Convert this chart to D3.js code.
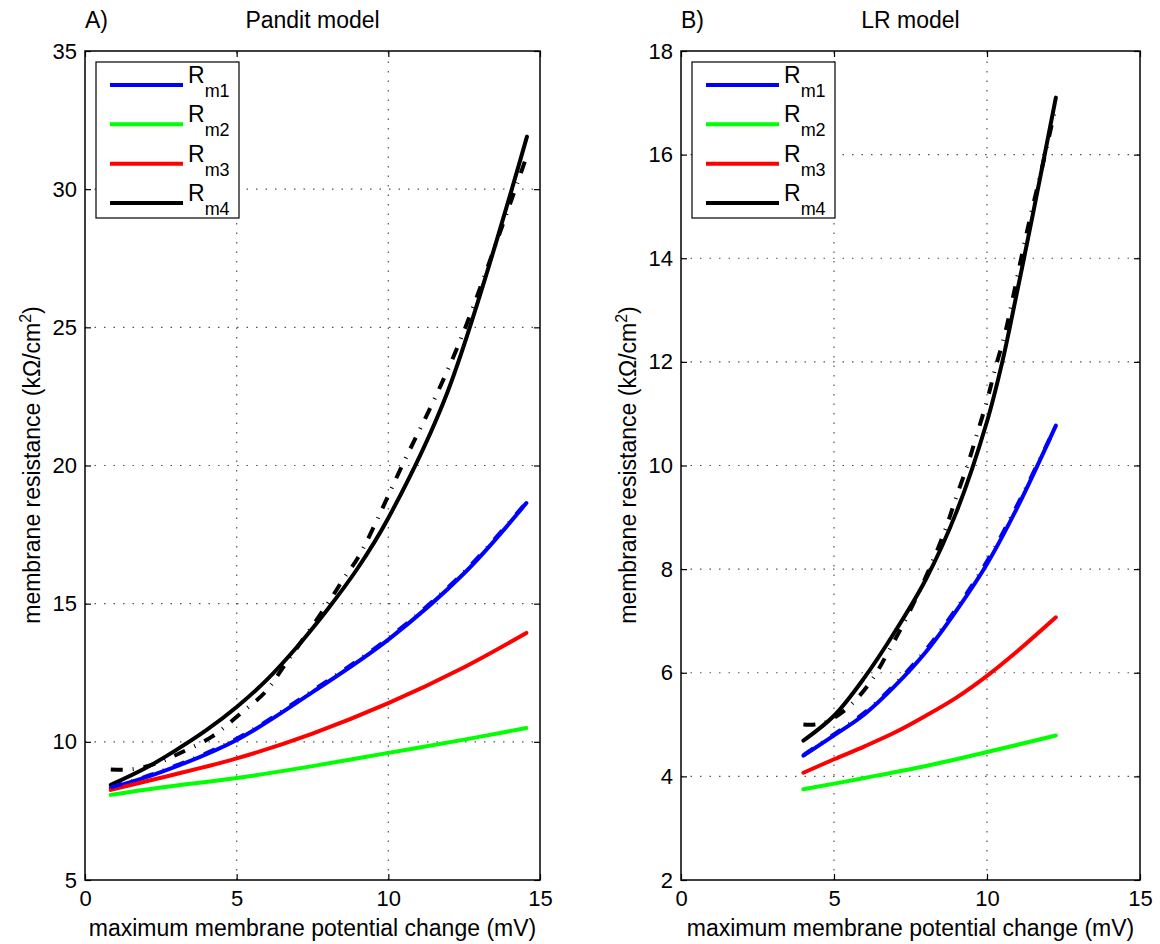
<!DOCTYPE html>
<html>
<head>
<meta charset="utf-8">
<script src="https://cdn.jsdelivr.net/npm/d3@7"></script>
<style>
  body { margin: 0; background: #fff; }
  svg text { font-family: "Liberation Sans", Arial, sans-serif; fill: #000; }
</style>
</head>
<body>
<svg id="chart" width="1160" height="944"></svg>
<script>
// tick values
const xTicks = [0, 5, 10, 15];
const yTicksA = [5, 10, 15, 20, 25, 30, 35];
const yTicksB = [2, 4, 6, 8, 10, 12, 14, 16, 18];
const legendSubs = ['m1', 'm2', 'm3', 'm4'];

// A) Pandit model, solid curves
const panditRm1X = [0.85, 2.5, 5, 7.5, 10, 12.5, 14.55];
const panditRm1Y = [8.33, 8.9, 10.07, 11.8, 13.7, 16.1, 18.64];
const panditRm2X = [0.85, 2.5, 5, 7.5, 10, 12.5, 14.55];
const panditRm2Y = [8.08, 8.35, 8.69, 9.12, 9.6, 10.08, 10.5];
const panditRm3X = [0.85, 2.5, 5, 7.5, 10, 12.5, 14.55];
const panditRm3Y = [8.26, 8.7, 9.4, 10.3, 11.4, 12.7, 13.94];
const panditRm4X = [0.85, 2, 3, 4, 5, 6, 7, 8, 9, 10, 11.93, 14.57];
const panditRm4Y = [8.44, 9.05, 9.7, 10.42, 11.26, 12.25, 13.45, 14.8, 16.3, 18.1, 22.6, 31.9];
// A) dash-dot curves
const panditFit1X = [0.85, 2.5, 5, 7.5, 10, 12.5, 14.5];
const panditFit1Y = [8.35, 8.93, 10.11, 11.85, 13.75, 16.15, 18.6];
const panditFit4X = [0.85, 1.5, 2.3, 3.07, 4.2, 5.1, 5.94, 6.6, 8.0, 8.5, 9.07, 10.5, 11.54, 12.47, 14.5];
const panditFit4Y = [9.0, 9.0, 9.2, 9.56, 10.2, 11.0, 11.8, 12.8, 15.0, 15.86, 16.8, 20.1, 22.45, 24.8, 31.0];

// B) LR model, solid curves
const lrRm1X = [4, 5, 6, 7, 8, 9, 10, 11, 12.25];
const lrRm1Y = [4.4, 4.79, 5.2, 5.75, 6.4, 7.2, 8.1, 9.2, 10.77];
const lrRm2X = [4, 6, 8, 10, 12.25];
const lrRm2Y = [3.75, 3.97, 4.2, 4.47, 4.79];
const lrRm3X = [4, 5, 6, 7, 8, 9, 10, 11, 12.25];
const lrRm3Y = [4.07, 4.33, 4.58, 4.85, 5.17, 5.52, 5.94, 6.42, 7.07];
const lrRm4X = [4, 5, 6, 7, 8, 9, 10, 10.5, 11, 11.5, 12.25];
const lrRm4Y = [4.69, 5.17, 5.91, 6.8, 7.8, 9.1, 10.85, 12.0, 13.4, 14.85, 17.1];
// B) dash-dot curves
const lrFit1X = [4, 5, 6, 7, 8, 9, 10, 11, 12.2];
const lrFit1Y = [4.41, 4.81, 5.23, 5.78, 6.44, 7.24, 8.15, 9.25, 10.7];
const lrFit4X = [4.0, 4.6, 5.4, 6.2, 6.76, 7.3, 8.0, 8.63, 9.0, 9.38, 9.67, 10.0, 10.26, 10.59, 10.85, 11.3, 11.83, 12.2];
const lrFit4Y = [5.0, 5.02, 5.3, 5.83, 6.39, 6.98, 7.85, 8.75, 9.4, 10.04, 10.6, 11.25, 11.85, 12.55, 13.25, 14.5, 15.83, 16.8];

const colors = ['#0000ff', '#00ff00', '#ff0000', '#000000'];
const pairs = (xs, ys) => xs.map((x, i) => [x, ys[i]]);

class Panel {
  constructor(svg, opts) {
    this.svg = svg;
    this.opts = opts;
    this.x = d3.scaleLinear().domain([0, 15]).range([opts.left, opts.right]);
    this.y = d3.scaleLinear().domain(opts.yDomain).range([880, 51]);
    this.g = svg.append('g');
  }

  drawGrid() {
    let grid = this.g.append('g')
      .attr('stroke', '#555')
      .attr('stroke-width', 1.2)
      .attr('stroke-dasharray', '1.5,8');
    grid.selectAll('.gx')
      .data(xTicks.slice(1, -1))
      .join('line')
      .attr('x1', d => this.x(d)).attr('x2', d => this.x(d))
      .attr('y1', this.y.range()[0]).attr('y2', this.y.range()[1]);
    grid.selectAll('.gy')
      .data(this.opts.yTicks.slice(1, -1))
      .join('line')
      .attr('y1', d => this.y(d)).attr('y2', d => this.y(d))
      .attr('x1', this.x.range()[0]).attr('x2', this.x.range()[1]);
  }

  drawLines() {
    let line = d3.line().x(d => this.x(d[0])).y(d => this.y(d[1])).curve(d3.curveCatmullRom.alpha(0.5));
    this.g.append('g')
      .selectAll('path')
      .data(this.opts.series)
      .join('path')
      .attr('d', d => line(d.points))
      .attr('fill', 'none')
      .attr('stroke', d => d.color)
      .attr('stroke-width', 4)
      .attr('stroke-linejoin', 'round')
      .attr('stroke-linecap', d => d.dash ? 'butt' : 'round')
      .attr('stroke-dasharray', d => d.dash ? '12,10,1,10' : null);
  }

  drawAxes() {
    let [x0, x1] = this.x.range();
    let [y0, y1] = this.y.range();
    let styleAxis = (sel) => {
      sel.select('.domain').remove();
      sel.selectAll('line').attr('stroke', '#000').attr('stroke-width', 1.2);
      sel.selectAll('text').style('font-size', '22px');
    };
    this.g.append('g').attr('transform', `translate(0,${y0})`)
      .call(d3.axisBottom(this.x).tickValues(xTicks).tickSize(-6).tickPadding(10))
      .call(styleAxis);
    this.g.append('g').attr('transform', `translate(0,${y1})`)
      .call(d3.axisTop(this.x).tickValues(xTicks).tickSize(-6).tickFormat(''))
      .call(styleAxis);
    this.g.append('g').attr('transform', `translate(${x0},0)`)
      .call(d3.axisLeft(this.y).tickValues(this.opts.yTicks).tickSize(-6).tickPadding(8))
      .call(styleAxis);
    this.g.append('g').attr('transform', `translate(${x1},0)`)
      .call(d3.axisRight(this.y).tickValues(this.opts.yTicks).tickSize(-6).tickFormat(''))
      .call(styleAxis);
    this.g.append('rect')
      .attr('x', x0).attr('y', y1)
      .attr('width', x1 - x0).attr('height', y0 - y1)
      .attr('fill', 'none').attr('stroke', '#000').attr('stroke-width', 1.5);
  }

  drawLabels() {
    let [x0, x1] = this.x.range();
    this.g.append('text').attr('x', x0).attr('y', 28)
      .style('font-size', '23px').text(this.opts.tag);
    this.g.append('text').attr('x', (x0 + x1) / 2).attr('y', 28)
      .attr('text-anchor', 'middle').style('font-size', '23px').text(this.opts.title);
    this.g.append('text').attr('x', (x0 + x1) / 2).attr('y', 936)
      .attr('text-anchor', 'middle').style('font-size', '23px')
      .text('maximum membrane potential change (mV)');
    let yl = this.g.append('text')
      .attr('transform', `translate(${x0 - 45},465) rotate(-90)`)
      .attr('text-anchor', 'middle').style('font-size', '23px');
    yl.append('tspan').text('membrane resistance (k\u03A9/cm');
    yl.append('tspan').attr('dy', -9).style('font-size', '16px').text('2');
    yl.append('tspan').attr('dy', 9).text(')');
  }

  drawLegend() {
    let x0 = this.x.range()[0];
    let lx = x0 + 11;
    let ly = d3.scaleLinear().domain([0, 3]).range([85, 203]);
    let legend = this.g.append('g');
    legend.append('rect')
      .attr('x', lx).attr('y', 62).attr('width', 143).attr('height', 156)
      .attr('fill', '#fff').attr('stroke', '#000').attr('stroke-width', 1.2);
    let item = legend.selectAll('.item')
      .data(legendSubs)
      .join('g')
      .attr('transform', (d, i) => `translate(0,${ly(i)})`);
    item.append('line')
      .attr('x1', lx + 14).attr('x2', lx + 87)
      .attr('stroke', (d, i) => colors[i]).attr('stroke-width', 4);
    // R followed by its lowered subscript
    let label = item.append('text').attr('x', lx + 92).attr('y', -2)
      .style('font-size', '23px');
    label.append('tspan').text('R');
    label.append('tspan').attr('dy', 14)
      .style('font-size', '18px').text(d => d);
  }

  render() {
    this.drawGrid();
    this.drawLines();
    this.drawAxes();
    this.drawLegend();
    this.drawLabels();
  }
}

const svg = d3.select('#chart');

new Panel(svg, {
  left: 85, right: 540, yDomain: [5, 35], yTicks: yTicksA,
  tag: 'A)', title: 'Pandit model',
  series: [
    { points: pairs(panditRm1X, panditRm1Y), color: colors[0] },
    { points: pairs(panditRm2X, panditRm2Y), color: colors[1] },
    { points: pairs(panditRm3X, panditRm3Y), color: colors[2] },
    { points: pairs(panditRm4X, panditRm4Y), color: colors[3] },
    { points: pairs(panditFit1X, panditFit1Y), color: colors[0], dash: true },
    { points: pairs(panditFit4X, panditFit4Y), color: colors[3], dash: true }
  ]
}).render();

new Panel(svg, {
  left: 681, right: 1140, yDomain: [2, 18], yTicks: yTicksB,
  tag: 'B)', title: 'LR model',
  series: [
    { points: pairs(lrRm1X, lrRm1Y), color: colors[0] },
    { points: pairs(lrRm2X, lrRm2Y), color: colors[1] },
    { points: pairs(lrRm3X, lrRm3Y), color: colors[2] },
    { points: pairs(lrRm4X, lrRm4Y), color: colors[3] },
    { points: pairs(lrFit1X, lrFit1Y), color: colors[0], dash: true },
    { points: pairs(lrFit4X, lrFit4Y), color: colors[3], dash: true }
  ]
}).render();
</script>
</body>
</html>
